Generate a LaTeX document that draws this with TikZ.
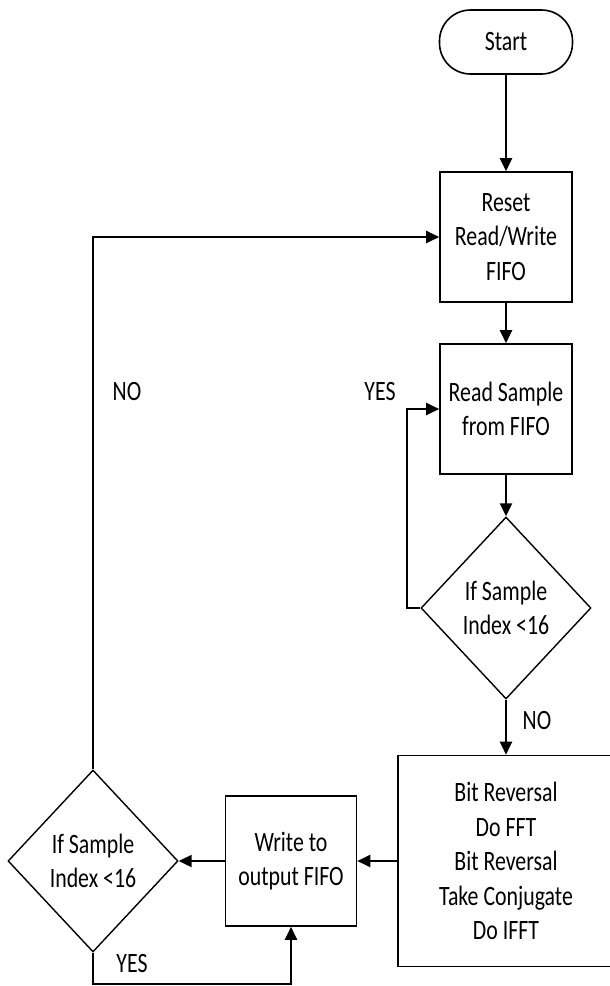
\documentclass[tikz,border=0pt]{standalone}
\usepackage{fontspec}
\setmainfont[FakeStretch=0.78]{Carlito}
\usetikzlibrary{positioning,arrows.meta,shapes.geometric}
\tikzset{
  flowbox/.style={draw, line width=1.6pt, align=center, inner sep=0pt,
    minimum width=132pt, minimum height=130pt},
  flowstart/.style={flowbox, rounded corners=31pt, minimum width=133pt, minimum height=64pt},
  flowtest/.style={diamond, draw, line width=1.4pt, align=center, inner sep=0pt,
    minimum width=170pt, minimum height=182pt},
  flowarrow/.style={-{Triangle[length=13pt,width=12pt]}, line width=2.2pt},
  flowlabel/.style={inner sep=0pt},
}

\begin{document}
\begin{tikzpicture}[x=1pt, y=-1pt, font=\fontsize{28}{34.5}\selectfont]
  \useasboundingbox (0,0) rectangle (610,986);
  \clip (0,0) rectangle (610,986);
  % main column
  \node[flowstart] (start) at (506,42) {Start};
  \node[flowbox] (reset) at (506,237) {Reset\\Read/Write\\FIFO};
  \node[flowbox] (read) at (506,409) {Read Sample\\from FIFO};
  \node[flowtest] (test1) at (506,608) {If Sample\\Index <16};
  \node[flowbox, minimum width=216pt, minimum height=211pt] (dsp) at (506,861)
    {Bit Reversal\\Do FFT\\Bit Reversal\\Take Conjugate\\Do IFFT};
  % bottom row
  \node[flowbox, minimum width=131pt] (write) at (291,861) {Write to\\output FIFO};
  \node[flowtest] (test2) at (93,861) {If Sample\\Index <16};
  \coordinate (loopin) at (407,608);
  \coordinate (loopout) at (93,984);
  % connectors
  \draw[flowarrow] (start) -- (reset);
  \draw[flowarrow] (reset) -- (read);
  \draw[flowarrow] (read) -- (test1);
  \draw[flowarrow] (test1) -- (dsp);
  \draw[flowarrow] (dsp) -- (write);
  \draw[flowarrow] (write) -- (test2);
  \draw[flowarrow] (test1.west) -- (loopin) |- (read.west);
  \draw[flowarrow] (test2.north) |- (reset.west);
  \draw[flowarrow] (test2.south) -- (loopout) -| (write.south);
  % branch labels
  \node[flowlabel] (yesread) at (380,392) {YES};
  \node[flowlabel] (noreset) at (127,392) {NO};
  \node[flowlabel] (nodsp) at (537,721) {NO};
  \node[flowlabel] (yeswrite) at (132,963) {YES};
\end{tikzpicture}
\end{document}
